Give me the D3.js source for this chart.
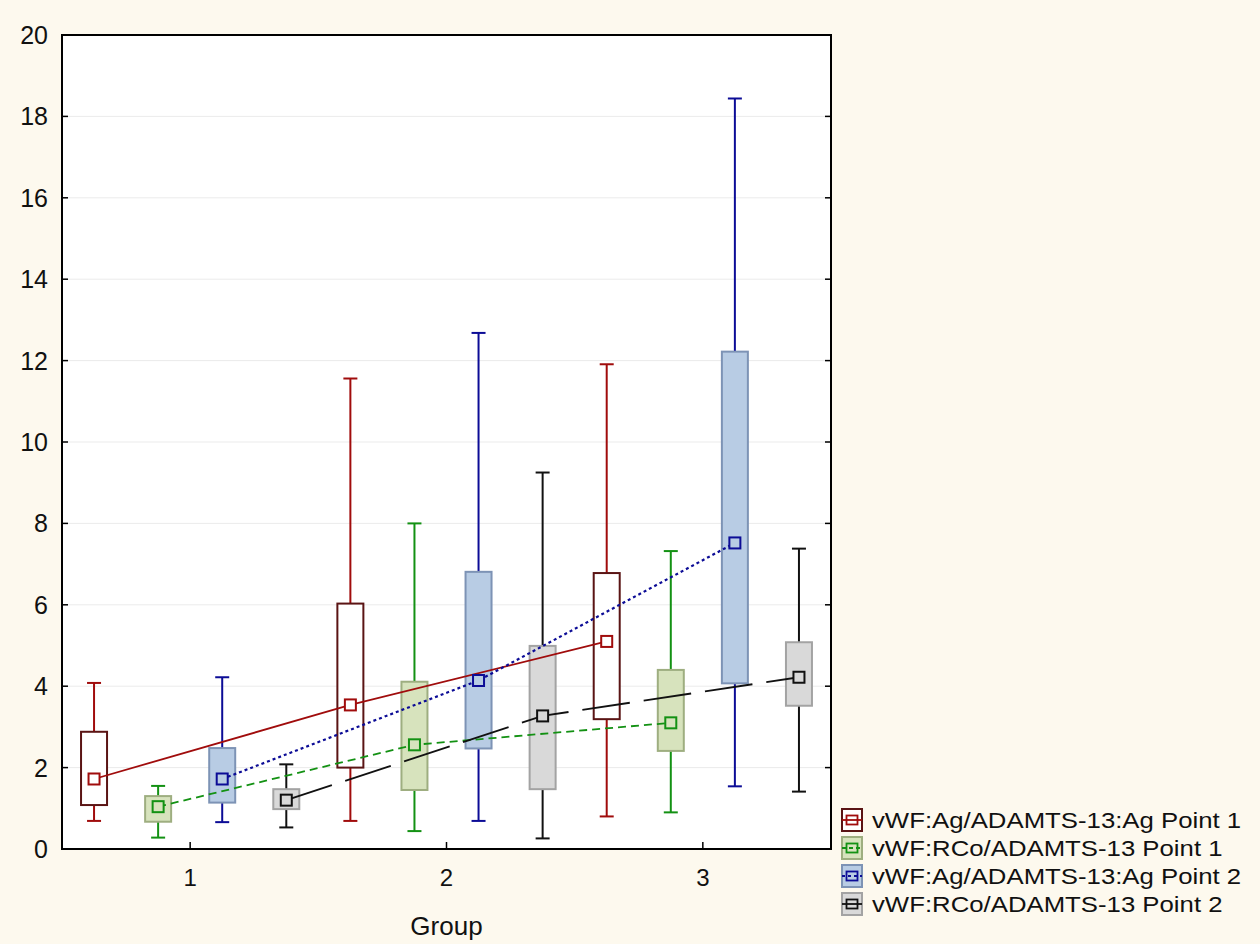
<!DOCTYPE html>
<html>
<head>
<meta charset="utf-8">
<script src="https://cdn.jsdelivr.net/npm/d3@7"></script>
<style>
  body { margin: 0; background: #fdf9ee; }
  svg { display: block; font-family: "Liberation Sans", Arial, sans-serif; }
</style>
</head>
<body>
<div id="chart"></div>
<script>
const groups = ["1", "2", "3"];
const seriesNames = [
    "vWF:Ag/ADAMTS-13:Ag Point 1",
    "vWF:RCo/ADAMTS-13 Point 1",
    "vWF:Ag/ADAMTS-13:Ag Point 2",
    "vWF:RCo/ADAMTS-13 Point 2"
];
// one row per series, one value per group
const means = [
    [1.72, 3.54, 5.10],
    [1.04, 2.56, 3.10],
    [1.72, 4.14, 7.52],
    [1.20, 3.27, 4.22]
];
const boxLow = [
    [1.08, 2.00, 3.19],
    [0.67, 1.45, 2.41],
    [1.14, 2.47, 4.07],
    [0.98, 1.47, 3.52]
];
const boxHigh = [
    [2.88, 6.03, 6.78],
    [1.30, 4.11, 4.40],
    [2.48, 6.81, 12.22],
    [1.47, 4.99, 5.08]
];
const whiskerLow = [
    [0.69, 0.69, 0.80],
    [0.28, 0.44, 0.90],
    [0.66, 0.69, 1.54],
    [0.53, 0.26, 1.41]
];
const whiskerHigh = [
    [4.08, 11.56, 11.91],
    [1.55, 8.00, 7.32],
    [4.22, 12.68, 18.44],
    [2.08, 9.25, 7.38]
];
const yTicks = [0, 2, 4, 6, 8, 10, 12, 14, 16, 18, 20];

const styles = [
    { line: "#a00c0c", fill: "#ffffff", border: "#5a1414", dash: null },
    { line: "#139113", fill: "#d7e3bd", border: "#9eae80", dash: "8,5" },
    { line: "#0c0c96", fill: "#b8cce4", border: "#7d93b5", dash: "3,3" },
    { line: "#111111", fill: "#d9d9d9", border: "#a3a3a3", dash: "48,14" }
];

const WIDTH = 1260, HEIGHT = 944;
const plotL = 62, plotR = 831, plotT = 35, plotB = 849;

const svg = d3.select("#chart").append("svg")
    .attr("width", WIDTH)
    .attr("height", HEIGHT);

svg.append("rect").attr("width", WIDTH).attr("height", HEIGHT).attr("fill", "#fdf9ee");
svg.append("rect")
    .attr("x", plotL).attr("y", plotT)
    .attr("width", plotR - plotL).attr("height", plotB - plotT)
    .attr("fill", "#ffffff");

const x = d3.scaleBand().domain(groups).range([plotL, plotR]);
const sub = d3.scaleBand().domain(d3.range(seriesNames.length)).range([0, x.bandwidth()]);
const y = d3.scaleLinear().domain([0, 20]).range([plotB, plotT]);

const cx = (s, g) => x(groups[g]) + sub(s) + sub.bandwidth() / 2;
const BOX_W = 26, CAP_W = 14, MARK = 11;

// gridlines
svg.append("g").selectAll("line")
    .data(yTicks.filter(d => d > 0 && d < 20))
    .join("line")
    .attr("x1", plotL).attr("x2", plotR)
    .attr("y1", d => y(d)).attr("y2", d => y(d))
    .attr("stroke", "#ebebeb").attr("stroke-width", 1);

// boxes and whiskers
const items = [];
seriesNames.forEach((name, s) => {
    groups.forEach((g, gi) => {
        items.push({ s, gi });
    });
});

const box = svg.append("g").selectAll("g").data(items).join("g");

box.append("line")
    .attr("x1", d => cx(d.s, d.gi)).attr("x2", d => cx(d.s, d.gi))
    .attr("y1", d => y(whiskerHigh[d.s][d.gi])).attr("y2", d => y(boxHigh[d.s][d.gi]))
    .attr("stroke", d => styles[d.s].line).attr("stroke-width", 2);
box.append("line")
    .attr("x1", d => cx(d.s, d.gi)).attr("x2", d => cx(d.s, d.gi))
    .attr("y1", d => y(boxLow[d.s][d.gi])).attr("y2", d => y(whiskerLow[d.s][d.gi]))
    .attr("stroke", d => styles[d.s].line).attr("stroke-width", 2);
box.append("line")
    .attr("x1", d => cx(d.s, d.gi) - CAP_W / 2).attr("x2", d => cx(d.s, d.gi) + CAP_W / 2)
    .attr("y1", d => y(whiskerHigh[d.s][d.gi])).attr("y2", d => y(whiskerHigh[d.s][d.gi]))
    .attr("stroke", d => styles[d.s].line).attr("stroke-width", 2);
box.append("line")
    .attr("x1", d => cx(d.s, d.gi) - CAP_W / 2).attr("x2", d => cx(d.s, d.gi) + CAP_W / 2)
    .attr("y1", d => y(whiskerLow[d.s][d.gi])).attr("y2", d => y(whiskerLow[d.s][d.gi]))
    .attr("stroke", d => styles[d.s].line).attr("stroke-width", 2);
box.append("rect")
    .attr("x", d => cx(d.s, d.gi) - BOX_W / 2)
    .attr("y", d => y(boxHigh[d.s][d.gi]))
    .attr("width", BOX_W)
    .attr("height", d => y(boxLow[d.s][d.gi]) - y(boxHigh[d.s][d.gi]))
    .attr("fill", d => styles[d.s].fill)
    .attr("stroke", d => styles[d.s].border)
    .attr("stroke-width", 2);

// mean lines
const line = d3.line().x(d => d[0]).y(d => d[1]);
svg.append("g").selectAll("path")
    .data(seriesNames.map((n, s) => s))
    .join("path")
    .attr("d", s => line(groups.map((g, gi) => [cx(s, gi), y(means[s][gi])])))
    .attr("fill", "none")
    .attr("stroke", s => styles[s].line)
    .attr("stroke-width", s => s === 2 ? 2.2 : 1.8)
    .attr("stroke-dasharray", s => styles[s].dash);

// mean markers
svg.append("g").selectAll("rect")
    .data(items)
    .join("rect")
    .attr("x", d => cx(d.s, d.gi) - MARK / 2)
    .attr("y", d => y(means[d.s][d.gi]) - MARK / 2)
    .attr("width", MARK).attr("height", MARK)
    .attr("fill", d => styles[d.s].fill)
    .attr("stroke", d => styles[d.s].line)
    .attr("stroke-width", 2);

// frame
svg.append("rect")
    .attr("x", plotL).attr("y", plotT)
    .attr("width", plotR - plotL).attr("height", plotB - plotT)
    .attr("fill", "none").attr("stroke", "#000").attr("stroke-width", 2);

// y axis ticks (both sides, inward) and labels
const yt = svg.append("g");
const innerTicks = yTicks.filter(d => d > 0 && d < 20);
yt.selectAll("line.l").data(innerTicks).join("line").attr("class", "l")
    .attr("x1", plotL).attr("x2", plotL + 6)
    .attr("y1", d => y(d)).attr("y2", d => y(d))
    .attr("stroke", "#000").attr("stroke-width", 1.5);
yt.selectAll("line.r").data(innerTicks).join("line").attr("class", "r")
    .attr("x1", plotR - 6).attr("x2", plotR)
    .attr("y1", d => y(d)).attr("y2", d => y(d))
    .attr("stroke", "#000").attr("stroke-width", 1.5);
yt.selectAll("text").data(yTicks).join("text")
    .attr("x", 48).attr("y", d => y(d))
    .attr("dy", "0.36em")
    .attr("text-anchor", "end")
    .attr("font-size", 25)
    .attr("fill", "#111")
    .text(d => d);

// x axis ticks and labels
const xt = svg.append("g");
xt.selectAll("line").data(groups).join("line")
    .attr("x1", d => x(d) + x.bandwidth() / 2).attr("x2", d => x(d) + x.bandwidth() / 2)
    .attr("y1", plotB).attr("y2", plotB - 7)
    .attr("stroke", "#000").attr("stroke-width", 1.5);
xt.selectAll("text").data(groups).join("text")
    .attr("x", d => x(d) + x.bandwidth() / 2).attr("y", 886)
    .attr("text-anchor", "middle")
    .attr("font-size", 24)
    .attr("fill", "#111")
    .text(d => d);
svg.append("text")
    .attr("x", (plotL + plotR) / 2).attr("y", 935)
    .attr("text-anchor", "middle")
    .attr("font-size", 26)
    .attr("fill", "#111")
    .text("Group");

// legend
const legend = svg.append("g").selectAll("g")
    .data(seriesNames.map((n, s) => s))
    .join("g")
    .attr("transform", s => `translate(842,${820 + s * 28})`);
legend.append("rect")
    .attr("x", 0).attr("y", -11).attr("width", 20).attr("height", 22)
    .attr("fill", s => styles[s].fill)
    .attr("stroke", s => styles[s].border)
    .attr("stroke-width", 2);
legend.append("line")
    .attr("x1", 0).attr("x2", 20).attr("y1", 0).attr("y2", 0)
    .attr("stroke", s => styles[s].line).attr("stroke-width", 1.8)
    .attr("stroke-dasharray", s => s === 3 ? null : (s === 1 ? "4,3" : styles[s].dash));
legend.append("rect")
    .attr("x", 4.5).attr("y", -4.5).attr("width", 11).attr("height", 9)
    .attr("fill", "none")
    .attr("stroke", s => styles[s].line).attr("stroke-width", 1.8);
legend.append("text")
    .attr("transform", "translate(30,8) scale(1.12,1)")
    .attr("font-size", 23)
    .attr("fill", "#111")
    .text(s => seriesNames[s]);
</script>
</body>
</html>
